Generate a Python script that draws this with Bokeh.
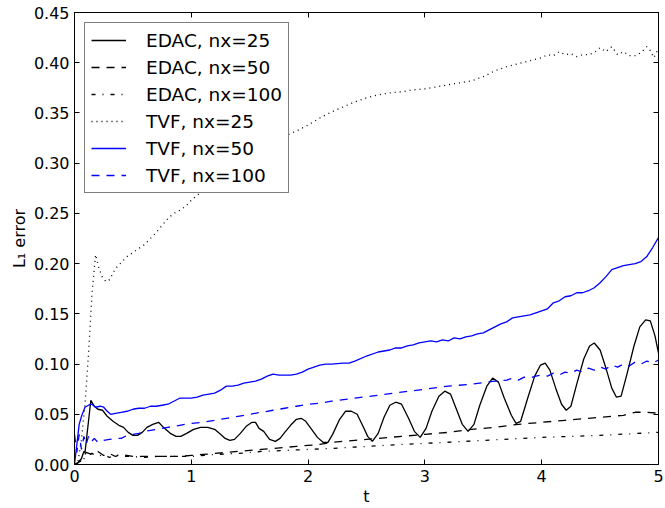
from bokeh.plotting import figure
from bokeh.models import (Range1d, LinearAxis, FixedTicker, Legend, LegendItem, NumeralTickFormatter,
                          CustomLabelingPolicy)
from bokeh.embed import file_html
from bokeh.resources import INLINE

# ---------------- data ----------------
edac25_t = [0, 0.03, 0.06, 0.08, 0.09, 0.14, 0.17, 0.2, 0.24, 0.28, 0.33, 0.38, 0.42, 0.46, 0.5, 0.54, 0.58, 0.62,
            0.67, 0.72, 0.77, 0.82, 0.87, 0.91, 0.96, 1.02, 1.08, 1.14, 1.2, 1.25, 1.29, 1.33, 1.37, 1.42, 1.47, 1.52,
            1.55, 1.58, 1.62, 1.67, 1.72, 1.76, 1.8, 1.85, 1.9, 1.94, 1.98, 2.03, 2.08, 2.13, 2.17, 2.21, 2.27, 2.32,
            2.37, 2.42, 2.47, 2.51, 2.55, 2.6, 2.65, 2.7, 2.75, 2.8, 2.86, 2.91, 2.96, 3.01, 3.06, 3.12, 3.17, 3.22,
            3.27, 3.32, 3.37, 3.42, 3.47, 3.53, 3.58, 3.63, 3.68, 3.74, 3.78, 3.82, 3.88, 3.94, 3.99, 4.03, 4.07,
            4.12, 4.17, 4.21, 4.25, 4.3, 4.36, 4.41, 4.45, 4.5, 4.55, 4.6, 4.64, 4.68, 4.73, 4.79, 4.84, 4.89, 4.93,
            4.97, 5.0]
edac25_e = [0.0, 0.002, 0.006, 0.013, 0.012, 0.064, 0.058, 0.055, 0.054, 0.048, 0.043, 0.039, 0.037, 0.032, 0.029,
            0.029, 0.032, 0.037, 0.040, 0.042, 0.036, 0.031, 0.028, 0.028, 0.031, 0.035, 0.037, 0.037, 0.035, 0.030,
            0.026, 0.024, 0.025, 0.031, 0.038, 0.042, 0.042, 0.036, 0.033, 0.025, 0.023, 0.026, 0.032, 0.039, 0.045,
            0.046, 0.043, 0.035, 0.027, 0.022, 0.022, 0.030, 0.045, 0.053, 0.053, 0.050, 0.038, 0.028, 0.023, 0.031,
            0.047, 0.059, 0.062, 0.060, 0.046, 0.033, 0.027, 0.036, 0.053, 0.068, 0.073, 0.070, 0.055, 0.040, 0.033,
            0.040, 0.059, 0.078, 0.086, 0.082, 0.066, 0.049, 0.041, 0.043, 0.066, 0.088, 0.099, 0.101, 0.094, 0.076,
            0.060, 0.054, 0.058, 0.080, 0.105, 0.118, 0.121, 0.114, 0.096, 0.076, 0.067, 0.068, 0.090, 0.118, 0.137,
            0.144, 0.143, 0.128, 0.111]

edac50_t = [0, 0.05, 0.1, 0.15, 0.2, 0.25, 0.3, 0.35, 0.4, 0.5, 0.6, 0.7, 0.8, 0.9, 1.0, 1.1, 1.2, 1.3, 1.4, 1.5,
            1.6, 1.7, 1.8, 1.9, 2.0, 2.1, 2.2, 2.4, 2.6, 2.8, 3.0, 3.2, 3.4, 3.6, 3.8, 4.0, 4.2, 4.4, 4.6, 4.7, 4.8,
            4.9, 5.0]
edac50_e = [0.0, 0.003, 0.012, 0.010, 0.013, 0.009, 0.011, 0.008, 0.010, 0.008, 0.008, 0.008, 0.008, 0.008, 0.009,
            0.010, 0.011, 0.012, 0.013, 0.014, 0.015, 0.016, 0.017, 0.018, 0.019, 0.020, 0.022, 0.024, 0.026, 0.028,
            0.030, 0.032, 0.035, 0.037, 0.040, 0.042, 0.044, 0.046, 0.048, 0.049, 0.052, 0.052, 0.051]

edac100_t = [0, 0.05, 0.1, 0.15, 0.2, 0.25, 0.3, 0.35, 0.4, 0.5, 0.6, 0.7, 0.8, 0.9, 1.0, 1.2, 1.4, 1.6, 1.8, 2.0,
             2.2, 2.5, 2.8, 3.0, 3.5, 4.0, 4.5, 5.0]
edac100_e = [0.0, 0.002, 0.008, 0.011, 0.008, 0.010, 0.007, 0.010, 0.008, 0.008, 0.007, 0.008, 0.008, 0.008, 0.008,
             0.010, 0.011, 0.013, 0.014, 0.015, 0.016, 0.018, 0.020, 0.021, 0.024, 0.027, 0.029, 0.032]

tvf25_t = [0, 0.03, 0.06, 0.09, 0.12, 0.15, 0.18, 0.21, 0.24, 0.27, 0.3, 0.35, 0.4, 0.45, 0.5, 0.55, 0.6, 0.65, 0.7,
           0.75, 0.8, 0.85, 0.9, 0.95, 1.0, 1.05, 1.1, 1.2, 1.3, 1.4, 1.5, 1.6, 1.7, 1.8, 1.9, 2.0, 2.1, 2.2, 2.3,
           2.4, 2.5, 2.6, 2.7, 2.8, 2.9, 3.0, 3.1, 3.2, 3.3, 3.4, 3.5, 3.6, 3.7, 3.8, 3.9, 4.0, 4.05, 4.1, 4.15, 4.2,
           4.25, 4.3, 4.35, 4.4, 4.45, 4.5, 4.55, 4.6, 4.65, 4.7, 4.75, 4.8, 4.85, 4.9, 4.93, 4.96, 5.0]
tvf25_e = [0.0, 0.003, 0.025, 0.06, 0.11, 0.17, 0.209, 0.195, 0.186, 0.182, 0.184, 0.195, 0.201, 0.207, 0.211,
           0.215, 0.219, 0.225, 0.231, 0.238, 0.245, 0.250, 0.253, 0.257, 0.263, 0.268, 0.273, 0.284, 0.295, 0.304,
           0.311, 0.317, 0.322, 0.327, 0.332, 0.338, 0.345, 0.351, 0.356, 0.361, 0.365, 0.368, 0.370, 0.371, 0.373,
           0.374, 0.376, 0.378, 0.380, 0.382, 0.386, 0.392, 0.396, 0.399, 0.402, 0.405, 0.408, 0.407, 0.411, 0.408,
           0.409, 0.406, 0.408, 0.408, 0.410, 0.415, 0.411, 0.416, 0.408, 0.411, 0.407, 0.407, 0.410, 0.416, 0.412,
           0.405, 0.414]

tvf50_t = [0, 0.02, 0.04, 0.06, 0.09, 0.12, 0.15, 0.18, 0.22, 0.25, 0.28, 0.31, 0.35, 0.4, 0.45, 0.5, 0.55, 0.6,
           0.65, 0.7, 0.75, 0.8, 0.85, 0.9, 0.95, 1.0, 1.05, 1.1, 1.15, 1.2, 1.25, 1.3, 1.35, 1.4, 1.45, 1.5, 1.55,
           1.6, 1.65, 1.7, 1.75, 1.8, 1.85, 1.9, 1.95, 2.0, 2.05, 2.1, 2.15, 2.2, 2.3, 2.35, 2.4, 2.5, 2.6, 2.7, 2.75,
           2.8, 2.85, 2.9, 2.95, 3.0, 3.05, 3.1, 3.15, 3.2, 3.25, 3.3, 3.35, 3.4, 3.45, 3.5, 3.55, 3.6, 3.65, 3.7,
           3.75, 3.8, 3.85, 3.9, 3.95, 4.0, 4.05, 4.1, 4.15, 4.2, 4.25, 4.3, 4.35, 4.4, 4.45, 4.5, 4.55, 4.6, 4.65,
           4.7, 4.75, 4.8, 4.85, 4.9, 4.95, 5.0]
tvf50_e = [0.0, 0.02, 0.04, 0.048, 0.057, 0.059, 0.060, 0.057, 0.058, 0.057, 0.053, 0.050, 0.051, 0.052, 0.053,
           0.055, 0.056, 0.056, 0.058, 0.058, 0.059, 0.060, 0.063, 0.066, 0.066, 0.066, 0.067, 0.069, 0.070, 0.071,
           0.074, 0.078, 0.078, 0.079, 0.081, 0.082, 0.083, 0.085, 0.088, 0.090, 0.089, 0.089, 0.089, 0.090, 0.092,
           0.095, 0.097, 0.099, 0.100, 0.100, 0.101, 0.101, 0.103, 0.108, 0.112, 0.114, 0.116, 0.116, 0.118, 0.119,
           0.121, 0.122, 0.123, 0.122, 0.124, 0.123, 0.126, 0.125, 0.127, 0.128, 0.130, 0.131, 0.134, 0.137, 0.140,
           0.142, 0.146, 0.147, 0.148, 0.149, 0.151, 0.153, 0.155, 0.161, 0.163, 0.167, 0.168, 0.171, 0.171, 0.173,
           0.176, 0.181, 0.187, 0.194, 0.196, 0.198, 0.199, 0.200, 0.202, 0.207, 0.216, 0.226]

tvf100_t = [0, 0.02, 0.04, 0.06, 0.08, 0.1, 0.12, 0.14, 0.17, 0.2, 0.25, 0.3, 0.35, 0.4, 0.45, 0.5, 0.55, 0.6, 0.7,
            0.8, 0.9, 1.0, 1.1, 1.2, 1.3, 1.4, 1.5, 1.6, 1.7, 1.8, 1.9, 2.0, 2.1, 2.2, 2.4, 2.6, 2.8, 3.0, 3.2, 3.4,
            3.6, 3.7, 3.75, 3.8, 3.85, 3.9, 3.95, 4.0, 4.05, 4.1, 4.15, 4.2, 4.25, 4.3, 4.35, 4.4, 4.45, 4.5, 4.55,
            4.6, 4.65, 4.7, 4.75, 4.8, 4.85, 4.9, 4.95, 5.0]
tvf100_e = [0.03, 0.012, 0.03, 0.015, 0.028, 0.02, 0.028, 0.022, 0.026, 0.022, 0.024, 0.025, 0.026, 0.026, 0.029,
            0.030, 0.031, 0.033, 0.035, 0.037, 0.039, 0.041, 0.042, 0.044, 0.046, 0.048, 0.050, 0.052, 0.054, 0.056,
            0.058, 0.060, 0.061, 0.063, 0.066, 0.069, 0.072, 0.075, 0.078, 0.080, 0.083, 0.084, 0.086, 0.084, 0.087,
            0.086, 0.088, 0.089, 0.088, 0.091, 0.089, 0.092, 0.091, 0.094, 0.092, 0.096, 0.094, 0.097, 0.095, 0.099,
            0.097, 0.100, 0.098, 0.102, 0.100, 0.103, 0.101, 0.104]

labels = ["EDAC, nx=25", "EDAC, nx=50", "EDAC, nx=100", "TVF, nx=25", "TVF, nx=50", "TVF, nx=100"]
y_ticks = [0.0, 0.05, 0.10, 0.15, 0.20, 0.25, 0.30, 0.35, 0.40, 0.45]
x_ticks = [0, 1, 2, 3, 4, 5]

FONT = "DejaVu Sans"

p = figure(width=665, height=508, output_backend="svg", toolbar_location=None,
           x_range=Range1d(0, 5), y_range=Range1d(0, 0.45),
           min_border_left=74, min_border_right=7, min_border_top=12, min_border_bottom=43)
p.xgrid.visible = False
p.ygrid.visible = False
p.outline_line_color = "black"
p.outline_line_width = 1
p.background_fill_color = "white"
p.border_fill_color = "white"

series = [
    (edac25_t, edac25_e, "black", "solid"),
    (edac50_t, edac50_e, "black", "8 7"),
    (edac100_t, edac100_e, "black", "4 7 1 7"),
    (tvf25_t, tvf25_e, "black", "1 4"),
    (tvf50_t, tvf50_e, "#0000ff", "solid"),
    (tvf100_t, tvf100_e, "#0000ff", "8 7"),
]
items = []
for (t, e, c, d), lab in zip(series, labels):
    r = p.line(t, e, line_color=c, line_width=1.3, line_dash=d)
    items.append(LegendItem(label=lab, renderers=[r]))

hide_labels = CustomLabelingPolicy(code="""
try { for (let i = 0; i < indices.size; i++) { indices.unset(i) } } catch (e) {}
return indices
""")


def style_axis(ax, labels_on=True):
    ax.axis_line_color = "black"
    ax.major_tick_line_color = "black"
    ax.major_tick_in = 5
    ax.major_tick_out = 0
    ax.minor_tick_line_color = None
    ax.major_label_text_font = FONT
    ax.major_label_text_color = "black"
    if labels_on:
        ax.major_label_text_font_size = "16px"
    else:
        ax.major_label_policy = hide_labels
        ax.major_label_text_font_size = "0px"
        ax.major_label_standoff = 0


style_axis(p.xaxis[0])
style_axis(p.yaxis[0])
p.xaxis[0].ticker = FixedTicker(ticks=x_ticks)
p.yaxis[0].ticker = FixedTicker(ticks=y_ticks)
p.yaxis[0].formatter = NumeralTickFormatter(format="0.00")
p.xaxis[0].axis_label = "t"
p.yaxis[0].axis_label = "L\u2081 error"
for ax in (p.xaxis[0], p.yaxis[0]):
    ax.axis_label_text_font = FONT
    ax.axis_label_text_font_size = "16px"
    ax.axis_label_text_font_style = "normal"
    ax.axis_label_text_color = "black"
    ax.axis_label_standoff = 2
    ax.major_label_standoff = 5

top = LinearAxis(ticker=FixedTicker(ticks=x_ticks))
right = LinearAxis(ticker=FixedTicker(ticks=y_ticks))
style_axis(top, False)
style_axis(right, False)
p.add_layout(top, "above")
p.add_layout(right, "right")

legend = Legend(items=items, location="top_left")
legend.margin = 10
legend.padding = 6
legend.spacing = 5
legend.label_height = 22
legend.glyph_height = 22
legend.glyph_width = 35
legend.label_standoff = 20
legend.label_text_font = FONT
legend.label_text_font_size = "18.5px"
legend.label_text_color = "black"
legend.border_line_color = "black"
legend.border_line_width = 1
legend.background_fill_color = "white"
legend.background_fill_alpha = 1.0
p.add_layout(legend)

open("out.html", "w").write(file_html(p, INLINE))
